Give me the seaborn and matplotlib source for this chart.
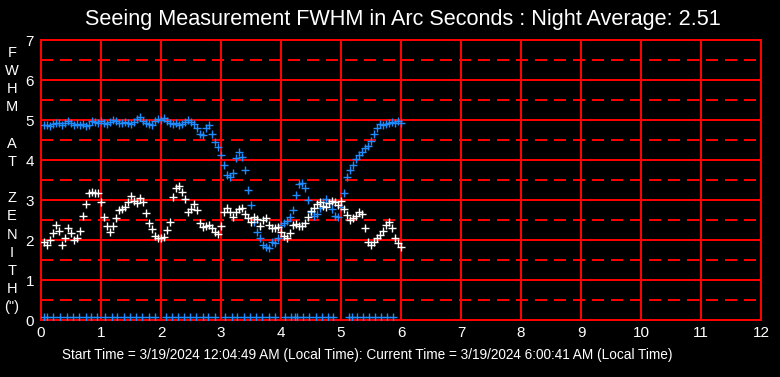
import numpy as np
import pandas as pd
import matplotlib.pyplot as plt
import seaborn as sns

# sample times in hours since start (3 minute steps)
hours = np.round(np.arange(0.05, 6.001, 0.05), 2)

# blue series (upper trace)
fwhm_blue = [
    4.87, 4.87, 4.85, 4.90, 4.92, 4.93, 4.88, 4.93, 4.98, 4.93,
    4.88, 4.90, 4.88, 4.90, 4.85, 4.87, 4.98, 4.96, 4.93, 4.97,
    4.93, 4.90, 4.96, 5.00, 4.98, 4.93, 4.92, 4.95, 4.92, 4.90,
    4.96, 5.02, 5.07, 4.98, 4.92, 4.90, 4.88, 4.98, 5.02, 5.00,
    5.04, 4.98, 4.92, 4.90, 4.92, 4.88, 4.90, 4.96, 5.00, 4.96,
    4.90, 4.79, 4.65, 4.63, 4.79, 4.87, 4.65, 4.46, 4.32, 4.12,
    3.88, 3.63, 3.58, 3.67, 4.04, 4.21, 4.08, 3.75, 3.25, 2.88,
    2.46, 2.21, 2.04, 1.88, 1.83, 1.79, 1.96, 1.92, 2.04, 2.38,
    2.43, 2.48, 2.58, 2.75, 3.12, 3.40, 3.42, 3.29, 3.00, 2.71,
    2.60, 2.65, 2.79, 2.96, 3.02, 2.92, 2.77, 2.60, 2.57, 2.83,
    3.18, 3.58, 3.75, 3.88, 4.02, 4.12, 4.21, 4.29, 4.35, 4.48,
    4.65, 4.79, 4.90, 4.88, 4.90, 4.93, 4.96, 4.92, 4.97, 4.93,
]

# white series (lower trace)
fwhm_white = [
    1.96, 1.88, 2.00, 2.18, 2.37, 2.23, 1.88, 2.04, 2.29, 2.17,
    2.00, 2.04, 2.23, 2.60, 2.90, 3.17, 3.21, 3.17, 3.18, 2.96,
    2.58, 2.35, 2.21, 2.35, 2.54, 2.75, 2.78, 2.82, 2.96, 3.10,
    2.98, 2.93, 3.04, 2.96, 2.67, 2.43, 2.27, 2.10, 2.04, 2.04,
    2.08, 2.25, 2.46, 3.07, 3.29, 3.35, 3.21, 3.02, 2.71, 2.77,
    2.90, 2.75, 2.42, 2.32, 2.35, 2.37, 2.31, 2.21, 2.15, 2.35,
    2.71, 2.79, 2.71, 2.57, 2.71, 2.77, 2.79, 2.65, 2.54, 2.46,
    2.57, 2.52, 2.35, 2.50, 2.54, 2.37, 2.29, 2.29, 2.33, 2.21,
    2.10, 2.04, 2.17, 2.37, 2.40, 2.35, 2.35, 2.43, 2.57, 2.73,
    2.79, 2.90, 2.96, 2.85, 2.83, 2.92, 2.98, 2.96, 2.88, 2.98,
    2.77, 2.62, 2.50, 2.54, 2.60, 2.71, 2.65, 2.29, 1.96, 1.88,
    1.96, 2.06, 2.12, 2.23, 2.37, 2.46, 2.31, 2.04, 1.92, 1.83,
]

# blue markers along the bottom
floor_hours = [
    0.05, 0.10, 0.20, 0.32, 0.43, 0.54, 0.64, 0.75, 0.84, 0.94,
    1.07, 1.18, 1.27, 1.38, 1.48, 1.59, 1.69, 1.80, 1.90,
    2.08, 2.18, 2.29, 2.38, 2.49, 2.59, 2.70, 2.79, 2.90,
    3.07, 3.18, 3.27, 3.38, 3.48, 3.59, 3.69, 3.80, 3.90,
    4.07, 4.16, 4.23, 4.27, 4.37, 4.47, 4.58, 4.68, 4.79, 4.87,
    5.14, 5.18, 5.26, 5.36, 5.47, 5.57, 5.66, 5.76, 5.87,
]
floor_level = 0.07

x_ticks = list(range(0, 13))
y_ticks = list(range(0, 8))

title = "Seeing Measurement FWHM in Arc Seconds : Night Average: 2.51"
footer = ("Start Time = 3/19/2024 12:04:49 AM (Local Time): "
          "Current Time = 3/19/2024 6:00:41 AM (Local Time)")

sns.set_theme(style="dark")
plt.rcParams["font.family"] = ["Liberation Sans", "DejaVu Sans"]

blue = "#1E8CFF"
red = "#FF0000"
lw = 1.44  # two pixels at 100 dpi

df_blue = pd.DataFrame({"hours": hours, "fwhm": fwhm_blue})
df_white = pd.DataFrame({"hours": hours, "fwhm": fwhm_white})
df_floor = pd.DataFrame({"hours": floor_hours, "fwhm": floor_level})

fig = plt.figure(figsize=(7.8, 3.77), dpi=100, facecolor="black")
ax = fig.add_axes([41 / 780, 57 / 377, 720 / 780, 280 / 377])
ax.set_facecolor("black")

ax.set_xlim(0, 12)
ax.set_ylim(0, 7)
ax.set_xticks(x_ticks)
ax.set_yticks(y_ticks)
ax.set_yticks(np.arange(0.5, 7, 1.0), minor=True)

ax.grid(which="major", axis="both", color=red, linewidth=lw, linestyle="-",
        antialiased=False)
ax.grid(which="minor", axis="y", color=red, linewidth=lw,
        linestyle=(0, (5.5, 4)), antialiased=False)
ax.set_axisbelow(True)

kw = dict(marker="+", s=28, linewidth=1.0, legend=False, ax=ax, zorder=3)
sns.scatterplot(data=df_blue, x="hours", y="fwhm", color=blue, **kw)
sns.scatterplot(data=df_floor, x="hours", y="fwhm", color=blue, **kw)
sns.scatterplot(data=df_white, x="hours", y="fwhm", color="white", **kw)

for sp in ax.spines.values():
    sp.set_color(red)
    sp.set_linewidth(lw)
    sp.set_antialiased(False)
    sp.set_visible(True)

ax.tick_params(axis="both", which="both", length=0, colors="white", labelsize=11)
ax.tick_params(axis="y", pad=5)
ax.tick_params(axis="x", pad=4)
ax.set_xlabel("")
ax.set_ylabel("")

fig.text(403 / 780, 1 - 20 / 377, title, color="white", fontsize=15.6,
         ha="center", va="center")
fig.text(62 / 780, 1 - 355 / 377, footer, color="white", fontsize=9.8,
         ha="left", va="center")

# vertical stacked y label
letters = "F\nW\nH\nM\n\nA\nT\n\nZ\nE\nN\nI\nT\nH\n(\")"
fig.text(12 / 780, 1 - 180 / 377, letters, color="white", fontsize=10.5,
         ha="center", va="center", linespacing=1.38, multialignment="center")

fig.savefig("out.png", dpi=100, facecolor="black")
